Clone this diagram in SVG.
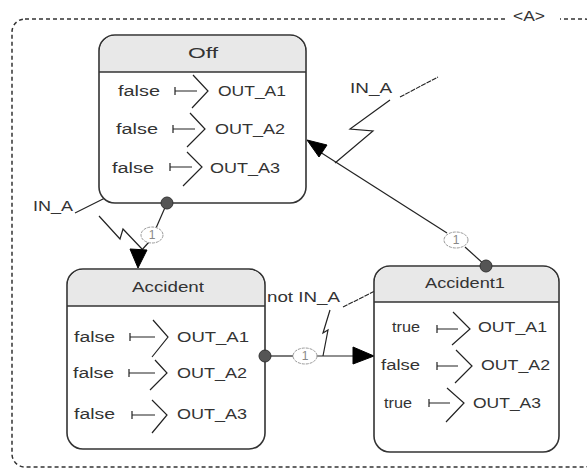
<svg xmlns="http://www.w3.org/2000/svg" width="587" height="468" viewBox="0 0 587 468">
<style>
.t{font-family:"Liberation Sans",Arial,sans-serif;font-size:14px;fill:#333}
.ttl{font-family:"Liberation Sans",Arial,sans-serif;font-size:14px;fill:#333;text-anchor:middle}
.box{fill:#fff;stroke:#333;stroke-width:1.6}
.hdr{fill:#e8e8e8;stroke:none}
.sep{stroke:#333;stroke-width:1.4}
.map{fill:none;stroke:#222;stroke-width:1.2}
.dot{fill:#555;stroke:#333;stroke-width:1}
.lbl{fill:#fff;stroke:#999;stroke-width:1;stroke-dasharray:3 1}
.lt{font-family:"Liberation Sans",Arial,sans-serif;font-size:12px;fill:#888;text-anchor:middle}
.con{fill:none;stroke:#222;stroke-width:1.2}
.grd{fill:none;stroke:#222;stroke-width:1.1;stroke-dasharray:5 1}
.ah{fill:#000;stroke:#000;stroke-width:1}
.frame{fill:none;stroke:#333;stroke-width:1.5;stroke-dasharray:4 3}
</style>
<g id="frame">
<rect class="frame" x="12" y="19" width="585" height="448" rx="13"/>
<rect x="505" y="12" width="55" height="14" fill="#fff"/>
<text class="t" x="513" y="21" font-size="11" fill="#555" textLength="32" lengthAdjust="spacingAndGlyphs">&lt;A&gt;</text>
</g>
<g id="connectors">
<!-- Off -> Accident -->
<line class="con" x1="167" y1="203" x2="156" y2="228"/>
<line class="con" x1="149" y1="242" x2="140" y2="252"/>
<polygon class="ah" points="130,249 147,250 138,268"/>
<polyline class="con" points="75,213 115,193"/>
<polyline class="con" points="99,216 120,239 123,229 142,249"/>
<!-- Accident -> Accident1 -->
<line class="con" x1="265" y1="356" x2="294" y2="356"/>
<line class="con" x1="316" y1="356" x2="355" y2="356"/>
<polygon class="ah" points="353,347 374,356 353,364"/>
<polyline class="grd" points="343,307 383,287"/>
<polyline class="con" points="323,356 328,330 323,333 330,310"/>
<!-- Accident1 -> Off -->
<line class="con" x1="486" y1="266" x2="465" y2="247"/>
<line class="con" x1="447" y1="233" x2="320" y2="152"/>
<polygon class="ah" points="307,140 327,145 319,157"/>
<polyline class="grd" points="400,97 438,77"/>
<polyline class="con" points="335,163 373,131 350,129 390,100"/>
<!-- labels -->
<ellipse class="lbl" cx="152" cy="235" rx="11" ry="8"/>
<text class="lt" x="152" y="239">1</text>
<ellipse class="lbl" cx="305" cy="356" rx="12" ry="8"/>
<text class="lt" x="305" y="360">1</text>
<ellipse class="lbl" cx="456" cy="240" rx="12" ry="8"/>
<text class="lt" x="456" y="244">1</text>
<text class="t" x="33" y="211" textLength="40" lengthAdjust="spacingAndGlyphs">IN_A</text>
<text class="t" x="350" y="93" textLength="42" lengthAdjust="spacingAndGlyphs">IN_A</text>
<text class="t" x="267" y="302" textLength="73" lengthAdjust="spacingAndGlyphs">not IN_A</text>
</g>
<g id="Off">
<rect class="box" x="99" y="35" width="207" height="168" rx="16"/>
<path class="hdr" d="M100,72 V51 A15,15 0 0 1 115,36 H290 A15,15 0 0 1 305,51 V72 Z"/>
<line class="sep" x1="99" y1="72" x2="306" y2="72"/>
<text class="ttl" x="203" y="58" textLength="30" lengthAdjust="spacingAndGlyphs">Off</text>
<text class="t" x="118" y="96" textLength="42" lengthAdjust="spacingAndGlyphs">false</text>
<path class="map" d="M175,87 V95 M175,91 H197 M193,75 L208,91 L192,108"/>
<text class="t" x="218" y="96" textLength="68" lengthAdjust="spacingAndGlyphs">OUT_A1</text>
<text class="t" x="116" y="134" textLength="42" lengthAdjust="spacingAndGlyphs">false</text>
<path class="map" d="M173,125 V133 M173,129 H195 M190,113 L205,129 L187,147"/>
<text class="t" x="215" y="134" textLength="70" lengthAdjust="spacingAndGlyphs">OUT_A2</text>
<text class="t" x="112" y="173" textLength="42" lengthAdjust="spacingAndGlyphs">false</text>
<path class="map" d="M170,163 V171 M170,167 H192 M187,152 L202,167 L183,186"/>
<text class="t" x="210" y="173" textLength="70" lengthAdjust="spacingAndGlyphs">OUT_A3</text>
<circle class="dot" cx="167" cy="203" r="6"/>
</g>
<g id="Accident">
<rect class="box" x="67" y="269" width="198" height="180" rx="16"/>
<path class="hdr" d="M68,306 V285 A15,15 0 0 1 83,270 H249 A15,15 0 0 1 264,285 V306 Z"/>
<line class="sep" x1="67" y1="306" x2="265" y2="306"/>
<text class="ttl" x="168" y="292" textLength="72" lengthAdjust="spacingAndGlyphs">Accident</text>
<text class="t" x="74" y="342" textLength="41" lengthAdjust="spacingAndGlyphs">false</text>
<path class="map" d="M130,333 V341 M130,337 H155 M153,320 L168,337 L152,357"/>
<text class="t" x="177" y="342" textLength="72" lengthAdjust="spacingAndGlyphs">OUT_A1</text>
<text class="t" x="73" y="378" textLength="41" lengthAdjust="spacingAndGlyphs">false</text>
<path class="map" d="M129,369 V377 M129,373 H155 M155,360 L167,373 L150,390"/>
<text class="t" x="177" y="378" textLength="70" lengthAdjust="spacingAndGlyphs">OUT_A2</text>
<text class="t" x="74" y="419" textLength="41" lengthAdjust="spacingAndGlyphs">false</text>
<path class="map" d="M132,411 V419 M132,415 H155 M152,400 L167,415 L152,433"/>
<text class="t" x="177" y="419" textLength="70" lengthAdjust="spacingAndGlyphs">OUT_A3</text>
<circle class="dot" cx="265" cy="356" r="6"/>
</g>
<g id="Accident1">
<rect class="box" x="374" y="266" width="185" height="186" rx="16"/>
<path class="hdr" d="M375,302 V282 A15,15 0 0 1 390,267 H543 A15,15 0 0 1 558,282 V302 Z"/>
<line class="sep" x1="374" y1="302" x2="559" y2="302"/>
<text class="ttl" x="465" y="288" textLength="80" lengthAdjust="spacingAndGlyphs">Accident1</text>
<text class="t" x="392" y="332" textLength="28" lengthAdjust="spacingAndGlyphs">true</text>
<path class="map" d="M437,325 V333 M437,329 H458 M453,312 L470,329 L452,345"/>
<text class="t" x="478" y="332" textLength="69" lengthAdjust="spacingAndGlyphs">OUT_A1</text>
<text class="t" x="381" y="370" textLength="39" lengthAdjust="spacingAndGlyphs">false</text>
<path class="map" d="M437,362 V370 M437,366 H458 M456,350 L472,366 L455,383"/>
<text class="t" x="481" y="370" textLength="69" lengthAdjust="spacingAndGlyphs">OUT_A2</text>
<text class="t" x="384" y="408" textLength="28" lengthAdjust="spacingAndGlyphs">true</text>
<path class="map" d="M429,399 V407 M429,403 H450 M447,388 L464,403 L446,422"/>
<text class="t" x="473" y="408" textLength="68" lengthAdjust="spacingAndGlyphs">OUT_A3</text>
<circle class="dot" cx="486" cy="266" r="6"/>
</g>
</svg>
